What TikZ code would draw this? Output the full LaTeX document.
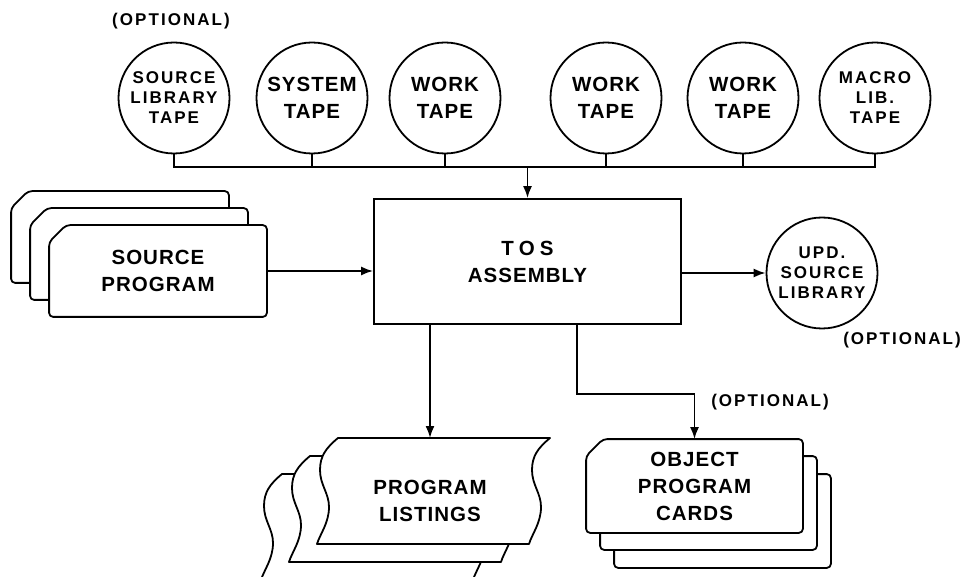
\documentclass[tikz,border=0pt]{standalone}
\usepackage{fontspec}
\setmainfont{Liberation Sans}
\newfontfamily\bigfont[LetterSpace=5]{Liberation Sans}
\newfontfamily\smallfont[LetterSpace=12]{Liberation Sans}
\usetikzlibrary{arrows.meta,calc,backgrounds}

\begin{document}
\begin{tikzpicture}[x=1pt,y=-1pt,
  line width=1.8pt,
  arr/.style={-{Latex[length=12pt,width=9pt]}},
  tape/.style={circle,draw,minimum size=111pt,inner sep=0pt,align=center},
  big/.style={font=\bigfont\fontsize{20.5}{27}\selectfont\bfseries,align=center},
  small/.style={font=\smallfont\fontsize{17}{20}\selectfont\bfseries,align=center},
  cardbody/.style={minimum width=216pt,minimum height=90pt,inner sep=0pt,align=center},
  card/.style={draw,fill=white,line width=1.8pt,rounded corners=4pt,line join=round},
  cardshape/.style n args={3}{insert path={
    ($(#1.north west)+(#2+17,#3)$) -- ($(#1.north east)+(#2,#3)$)
    -- ($(#1.south east)+(#2,#3)$) -- ($(#1.south west)+(#2,#3)$)
    -- ($(#1.north west)+(#2,#3+17)$) -- cycle}},
  sheet/.pic={
    \path[draw,fill=white,line join=round]
      (0,0) -- (212,0)
      .. controls (200,10) and (194,18) .. (194,32)
      .. controls (194,47) and (203,55) .. (203,69)
      .. controls (203,85) and (194,96) .. (191,106)
      -- (-21,106)
      .. controls (-18,96) and (-9,85) .. (-9,69)
      .. controls (-9,55) and (-18,47) .. (-18,32)
      .. controls (-18,18) and (-12,10) .. (0,0) -- cycle;
  }
]
\useasboundingbox (0,0) rectangle (980,577);
\clip (0,0) rectangle (980,577);

% tape units
\node[tape,small] (t1) at (174,98) {SOURCE\\LIBRARY\\TAPE};
\node[tape,big]   (t2) at (312,98) {SYSTEM\\TAPE};
\node[tape,big]   (t3) at (445,98) {WORK\\TAPE};
\node[tape,big]   (t4) at (606,98) {WORK\\TAPE};
\node[tape,big]   (t5) at (743,98) {WORK\\TAPE};
\node[tape,small] (t6) at (875,98) {MACRO\\LIB.\\TAPE};
\node[small] (opt1) at (171,21) {(OPTIONAL)};

% assembler box
\node[draw,big,minimum width=307pt,minimum height=125pt] (tos) at (527.5,261.5)
  {{\addfontfeature{LetterSpace=25}TOS}\\ASSEMBLY};

% tape bus
\coordinate (bus) at (tos.north |- 0,167);
\draw (t1.south) -- (t1.south |- bus) -- (t6.south |- bus) -- (t6.south);
\foreach \t in {t2,t3,t4,t5} \draw (\t.south) -- (\t.south |- bus);
\draw[arr] (bus) -- (tos.north);

% source deck
\node[cardbody,big] (src) at (158,271) {SOURCE\\PROGRAM};
\begin{scope}[on background layer]
  \path[card,cardshape={src}{-38}{-34}];
  \path[card,cardshape={src}{-19}{-17}];
  \path[card,cardshape={src}{0}{0}];
\end{scope}
\draw[arr] (src.east) -- (src.east -| tos.west);

% updated library
\node[tape,small] (upd) at (822,273) {UPD.\\SOURCE\\LIBRARY};
\node[small] (opt2) at (902,340) {(OPTIONAL)};
\draw[arr] (tos.east |- upd) -- (upd.west);

% listings
\pic at (282,474) {sheet};
\pic at (310,456) {sheet};
\pic at (338,438) {sheet};
\coordinate (lsttop) at (430,438);
\node[big] (lst) at (430,501) {PROGRAM\\LISTINGS};
\draw[arr] (tos.south -| lsttop) -- (lsttop);

% object deck
\node[cardbody,big,minimum width=215pt,minimum height=92pt] (obj) at (694.5,486)
  {OBJECT\\PROGRAM\\CARDS};
\begin{scope}[on background layer]
  \path[card,cardshape={obj}{28}{35}];
  \path[card,cardshape={obj}{14}{17}];
  \path[card,cardshape={obj}{0}{0}];
\end{scope}
\node[small] (opt3) at (770,402) {(OPTIONAL)};
\draw[arr] ([xshift=49.5pt]tos.south) -- ++(0,69) -| (obj.north);
\end{tikzpicture}
\end{document}
